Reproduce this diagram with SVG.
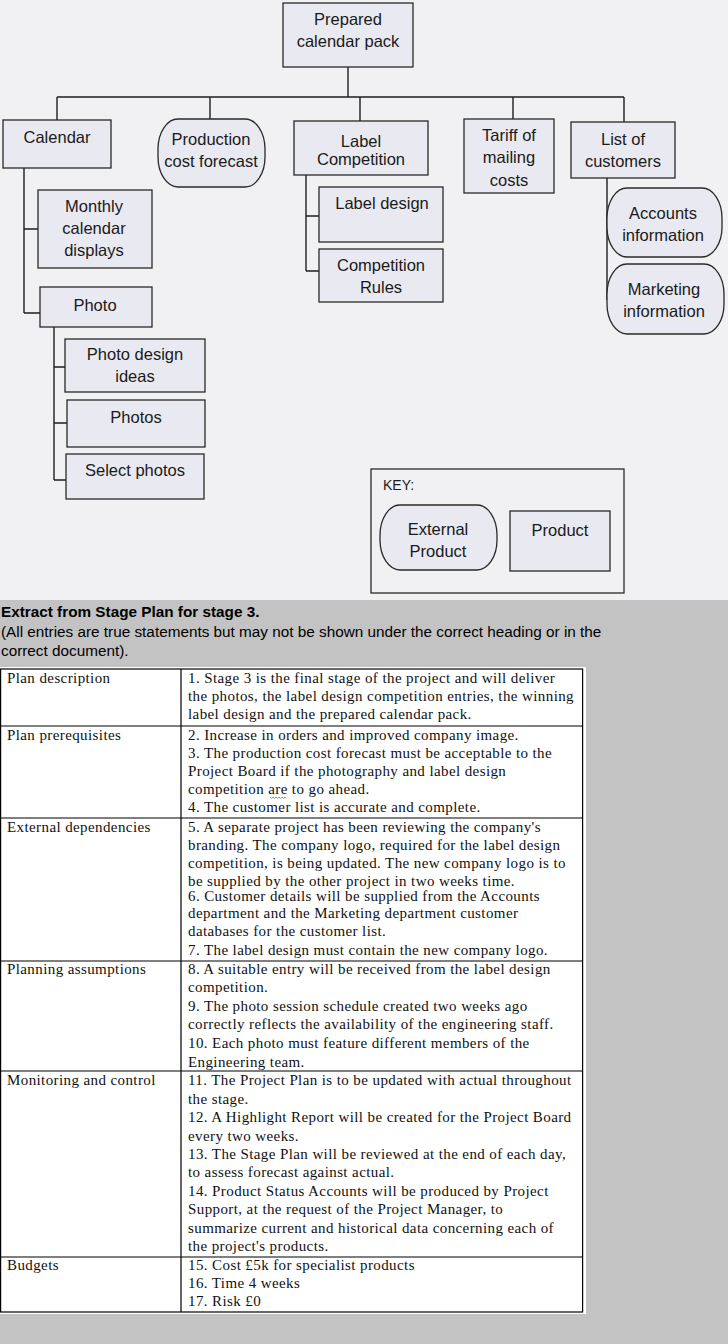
<svg xmlns="http://www.w3.org/2000/svg" width="728" height="1344" viewBox="0 0 728 1344">
<style>
.bx{fill:#e9e9f1;stroke:#2a2a2a;stroke-width:1.3}
.ln{fill:none;stroke:#1e1e1e;stroke-width:1.4}
.t{font-family:"Liberation Sans",Arial,sans-serif;font-size:16.5px;fill:#1a1a1a;text-anchor:middle}
.tl{font-family:"Liberation Sans",Arial,sans-serif;font-size:14px;fill:#1a1a1a}
.h{font-family:"Liberation Sans",Arial,sans-serif;font-size:15.3px;fill:#000}
.s{font-family:"Liberation Serif","Times New Roman",serif;font-size:15px;letter-spacing:0.4px;fill:#111}
.tb{fill:none;stroke:#000;stroke-width:1.2}
</style>
<rect x="0" y="0" width="728" height="600" fill="#f1f1f4"/>
<rect x="0" y="600" width="728" height="744" fill="#c3c3c3"/>

<g id="connectors">
<path class="ln" d="M348 67V97M57 97H624M57 97V120M210 97V119M360 97V121M513 97V119M624 97V122"/>
<path class="ln" d="M24 168V313M24 229H38M24 313H40"/>
<path class="ln" d="M54 327V480M54 367H65M54 423H67M54 480H66"/>
<path class="ln" d="M306 175V271M306 216H319M306 271H319"/>
<path class="ln" d="M607 178V300M607 225H609M607 300H609"/>
</g>

<g id="n-prepared"><rect class="bx" x="283" y="3" width="130" height="64"/><text class="t" x="348" y="25">Prepared</text><text class="t" x="348" y="47">calendar pack</text></g>
<g id="n-calendar"><rect class="bx" x="3" y="120" width="108" height="48"/><text class="t" x="57" y="143">Calendar</text></g>
<g id="n-prodcost"><rect class="bx" x="158" y="119" width="107" height="68" rx="20" ry="30"/><text class="t" x="211" y="145">Production</text><text class="t" x="211" y="167">cost forecast</text></g>
<g id="n-labelcomp"><rect class="bx" x="294" y="121" width="134" height="54"/><text class="t" x="361" y="147">Label</text><text class="t" x="361" y="165">Competition</text></g>
<g id="n-tariff"><rect class="bx" x="464" y="119" width="90" height="74"/><text class="t" x="509" y="141">Tariff of</text><text class="t" x="509" y="163">mailing</text><text class="t" x="509" y="186">costs</text></g>
<g id="n-customers"><rect class="bx" x="571" y="122" width="104" height="56"/><text class="t" x="623" y="145">List of</text><text class="t" x="623" y="167">customers</text></g>
<g id="n-monthly"><rect class="bx" x="38" y="190" width="114" height="78"/><text class="t" x="94" y="212">Monthly</text><text class="t" x="94" y="234">calendar</text><text class="t" x="94" y="256">displays</text></g>
<g id="n-photo"><rect class="bx" x="40" y="287" width="112" height="40"/><text class="t" x="95" y="311">Photo</text></g>
<g id="n-photoideas"><rect class="bx" x="65" y="339" width="140" height="53"/><text class="t" x="135" y="360">Photo design</text><text class="t" x="135" y="382">ideas</text></g>
<g id="n-photos"><rect class="bx" x="67" y="400" width="138" height="47"/><text class="t" x="136" y="423">Photos</text></g>
<g id="n-select"><rect class="bx" x="66" y="454" width="138" height="45"/><text class="t" x="135" y="476">Select photos</text></g>
<g id="n-labeldesign"><rect class="bx" x="319" y="187" width="124" height="55"/><text class="t" x="382" y="209">Label design</text></g>
<g id="n-rules"><rect class="bx" x="319" y="249" width="124" height="53"/><text class="t" x="381" y="271">Competition</text><text class="t" x="381" y="293">Rules</text></g>
<g id="n-accounts"><rect class="bx" x="607" y="188" width="115" height="69" rx="20" ry="30"/><text class="t" x="663" y="219">Accounts</text><text class="t" x="663" y="241">information</text></g>
<g id="n-marketing"><rect class="bx" x="607" y="264" width="117" height="70" rx="20" ry="30"/><text class="t" x="664" y="295">Marketing</text><text class="t" x="664" y="317">information</text></g>

<g id="key">
<rect x="371" y="469" width="253" height="124" fill="#f1f1f4" stroke="#2a2a2a" stroke-width="1.3"/>
<text class="tl" x="383" y="490">KEY:</text>
<rect class="bx" x="380" y="505" width="117" height="65" rx="20" ry="30"/>
<text class="t" x="438" y="535">External</text><text class="t" x="438" y="557">Product</text>
<rect class="bx" x="510" y="511" width="100" height="60"/>
<text class="t" x="560" y="536">Product</text>
</g>

<g id="extract">
<text class="h" x="1" y="617" font-weight="bold" font-size="15.6px">Extract from Stage Plan for stage 3.</text>
<text class="h" x="1" y="637">(All entries are true statements but may not be shown under the correct heading or in the</text>
<text class="h" x="1" y="656">correct document).</text>
</g>

<g id="table">
<rect x="0" y="667" width="586" height="647" fill="#fff"/>
<rect class="tb" x="0.6" y="669" width="582" height="643"/>
<path class="tb" d="M181 669V1312M0 726H583M0 818H583M0 961H583M0 1071H583M0 1257H583"/>
<text class="s" x="7" y="683">Plan description</text>
<text class="s" x="7" y="740">Plan prerequisites</text>
<text class="s" x="7" y="832">External dependencies</text>
<text class="s" x="7" y="974">Planning assumptions</text>
<text class="s" x="7" y="1085">Monitoring and control</text>
<text class="s" x="7" y="1270">Budgets</text>

<text class="s" x="188" y="683">1. Stage 3 is the final stage of the project and will deliver</text>
<text class="s" x="188" y="701">the photos, the label design competition entries, the winning</text>
<text class="s" x="188" y="719">label design and the prepared calendar pack.</text>

<text class="s" x="188" y="740">2. Increase in orders and improved company image.</text>
<text class="s" x="188" y="758">3. The production cost forecast must be acceptable to the</text>
<text class="s" x="188" y="776">Project Board if the photography and label design</text>
<text class="s" x="188" y="794">competition are to go ahead.</text>
<path d="M270 797l1.5 1.5 1.5-1.5 1.5 1.5 1.5-1.5 1.5 1.5 1.5-1.5 1.5 1.5 1.5-1.5 1.5 1.5 1.5-1.5 1.5 1.5" fill="none" stroke="#6a8a6a" stroke-width="0.8"/>
<text class="s" x="188" y="812">4. The customer list is accurate and complete.</text>

<text class="s" x="188" y="832">5. A separate project has been reviewing the company's</text>
<text class="s" x="188" y="850">branding. The company logo, required for the label design</text>
<text class="s" x="188" y="868">competition, is being updated. The new company logo is to</text>
<text class="s" x="188" y="886">be supplied by the other project in two weeks time.</text>
<text class="s" x="188" y="901">6. Customer details will be supplied from the Accounts</text>
<text class="s" x="188" y="918">department and the Marketing department customer</text>
<text class="s" x="188" y="936">databases for the customer list.</text>
<text class="s" x="188" y="955">7. The label design must contain the new company logo.</text>

<text class="s" x="188" y="974">8. A suitable entry will be received from the label design</text>
<text class="s" x="188" y="992">competition.</text>
<text class="s" x="188" y="1011">9. The photo session  schedule created two weeks ago</text>
<text class="s" x="188" y="1029">correctly reflects the availability of the engineering staff.</text>
<text class="s" x="188" y="1048">10. Each photo must feature different members of the</text>
<text class="s" x="188" y="1067">Engineering team.</text>

<text class="s" x="188" y="1085">11. The Project Plan is to be updated with actual throughout</text>
<text class="s" x="188" y="1104">the stage.</text>
<text class="s" x="188" y="1122">12. A Highlight Report will be created for the Project Board</text>
<text class="s" x="188" y="1141">every two weeks.</text>
<text class="s" x="188" y="1159">13. The Stage Plan will be reviewed at the end of each day,</text>
<text class="s" x="188" y="1177">to assess forecast against actual.</text>
<text class="s" x="188" y="1196">14. Product Status Accounts will be produced by Project</text>
<text class="s" x="188" y="1214">Support, at the request of the Project Manager, to</text>
<text class="s" x="188" y="1233">summarize current and historical data concerning each of</text>
<text class="s" x="188" y="1251">the project's products.</text>

<text class="s" x="188" y="1270">15. Cost £5k for specialist products</text>
<text class="s" x="188" y="1288">16. Time 4 weeks</text>
<text class="s" x="188" y="1306">17. Risk £0</text>
</g>
</svg>
